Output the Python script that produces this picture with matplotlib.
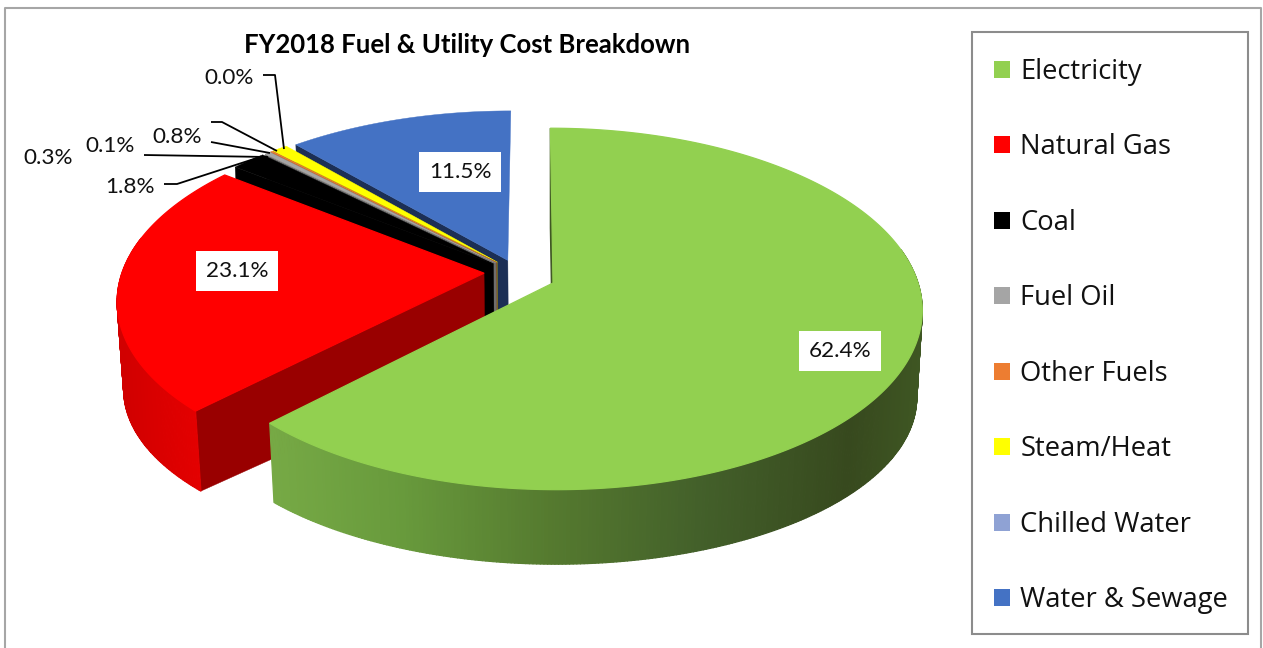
import numpy as np
import matplotlib
matplotlib.use("Agg")
import matplotlib.pyplot as plt
from matplotlib.patches import Polygon, Rectangle, Patch
from matplotlib.collections import PolyCollection
from matplotlib.colors import to_rgb

plt.rcParams['font.family'] = ['Lato', 'DejaVu Sans']

TITLE = "FY2018 Fuel & Utility Cost Breakdown"
categories = ["Electricity", "Natural Gas", "Coal", "Fuel Oil", "Other Fuels",
              "Steam/Heat", "Chilled Water", "Water & Sewage"]
shares = [62.4, 23.1, 1.8, 0.3, 0.1, 0.8, 0.0, 11.5]
share_labels = ["62.4%", "23.1%", "1.8%", "0.3%", "0.1%", "0.8%", "0.0%", "11.5%"]

top_colors = ["#92D050", "#FF0000", "#000000", "#A5A5A5", "#ED7D31", "#FFFF00", "#8FA2D4", "#4472C4"]
cut_colors = ["#3F5723", "#990000", "#000000", "#6E6E6E", "#8A4A1C", "#7F7F20", "#55617F", "#1C2F55"]
side_stops = {
    0: ([273, 400, 550, 700, 850, 925],
        ["#76A945", "#689A3C", "#557A2F", "#43602A", "#37491E", "#3F5723"]),
    1: ([115, 205], ["#D00000", "#E60000"]),
}
# explosion of each slice, in units of the pie radius (right, away from viewer)
explode = [(0, 0), (-0.19, 0.056), (-0.165, 0.11), (-0.158, 0.115),
           (-0.156, 0.118), (-0.154, 0.12), (-0.14, 0.125), (-0.125, 0.13)]

# projection of the tilted disc onto the page (page pixels)
CX, CY, RX, RY, PERSP, SHEAR = 553, 283, 365, 177, 0.1435, 3
BOTTOM_Y, BOTTOM_SY, BOTTOM_SX = 372, 0.93, 0.985


def project(u, v):
    s = 1 / (1 + PERSP * v)
    return CX + RX * u * s - SHEAR * v * s, CY - RY * v * s


def lower(x, y):
    return CX + (x - CX) * BOTTOM_SX, BOTTOM_Y + BOTTOM_SY * (y - CY)


fig = plt.figure(figsize=(12.63, 6.48), dpi=100, facecolor="white")
ax = fig.add_axes([0, 0, 1, 1])
ax.set_xlim(0, 1263)
ax.set_ylim(648, 0)
ax.axis("off")

# chart frame (open at the bottom edge of the crop)
ax.plot([4.5, 4.5, 1261, 1261], [648, 7.5, 7.5, 648], color="#A6A6A6", lw=1.5, zorder=1)

edges = np.concatenate([[0], np.cumsum(shares)]) * 3.6
z = 2
for i in [7, 5, 4, 3, 2, 1, 0]:
    a0, a1 = edges[i], edges[i + 1]
    e = explode[i]
    t = np.radians(np.linspace(a0, a1, max(2, int(abs(a1 - a0) * 2) + 2)))
    rx, ry = project(e[0] + np.sin(t), e[1] + np.cos(t))
    ax0, ay0 = project(e[0], e[1])
    bx, by = lower(rx, ry)
    abx, aby = lower(ax0, ay0)

    # cut face on the leading edge of the slice
    face = [(ax0, ay0), (rx[0], ry[0]), (bx[0], by[0]), (abx, aby)]
    ax.add_patch(Polygon(face, closed=True, facecolor=cut_colors[i], edgecolor=cut_colors[i],
                         lw=1.0 if i == 0 else 0.3, zorder=z))
    z += 1

    # curved outer wall: only the part that faces the viewer
    front = [j for j in range(len(rx) - 1) if np.cos(t[j]) < 0.2]
    if front:
        quads = [[(rx[j], ry[j]), (rx[j + 1], ry[j + 1]), (bx[j + 1], by[j + 1]), (bx[j], by[j])]
                 for j in front]
        if i in side_stops:
            xs, cols = side_stops[i]
            rgb = np.array([to_rgb(c) for c in cols])
            mids = np.array([(rx[j] + rx[j + 1]) / 2 for j in front])
            colors = np.column_stack([np.interp(mids, xs, rgb[:, k]) for k in range(3)])
        else:
            colors = [cut_colors[i]] * len(quads)
        ax.add_collection(PolyCollection(quads, facecolors=colors, edgecolors=colors,
                                         linewidths=0.9, zorder=z))
        z += 1

    # top surface
    pts = [(ax0, ay0)] + list(zip(rx, ry))
    ax.add_patch(Polygon(pts, closed=True, facecolor=top_colors[i], edgecolor=top_colors[i],
                         lw=0.9 if i < 2 else 0.3, zorder=z))
    z += 1

# data labels
label_font = 16.2
boxed = {0: (840, 351), 1: (237, 271), 7: (460, 172)}
for i, (x, y) in boxed.items():
    ax.text(x, y, share_labels[i], ha="center", va="center", fontsize=label_font, color="#111111",
            zorder=50, bbox=dict(facecolor="white", edgecolor="none", pad=7))
plain = {6: (229, 78), 5: (177, 137), 4: (110, 146), 3: (48, 158), 2: (130, 187)}
for i, (x, y) in plain.items():
    ax.text(x, y, share_labels[i], ha="center", va="center", fontsize=label_font, color="#111111", zorder=50)

# leader lines
leaders = [
    [(263, 75), (275, 75), (284, 149)],
    [(211, 122), (222, 122), (277, 151)],
    [(211, 142), (270, 153)],
    [(144, 155), (268, 157)],
    [(164, 184), (177, 184), (257, 158)],
]
for line in leaders:
    xs, ys = zip(*line)
    ax.plot(xs, ys, color="black", lw=1.3, zorder=49, solid_capstyle="butt")

ax.text(467, 45, TITLE, ha="center", va="center", fontsize=18.5, fontweight="bold", color="black", zorder=50)

# legend: frame plus entries
ax.add_patch(Rectangle((972, 32), 276, 602, facecolor="white", edgecolor="#8C8C8C", lw=1.5, zorder=55))
handles = [Patch(facecolor=c, edgecolor="none", label=n) for c, n in zip(top_colors, categories)]
leg = ax.legend(handles=handles, loc="upper left", bbox_to_anchor=(994, 58), bbox_transform=ax.transData,
                prop={"family": "Open Sans", "size": 19.7}, frameon=False,
                labelspacing=1.735, handlelength=0.585, handleheight=0.585, handletextpad=0.38,
                borderpad=0, borderaxespad=0, labelcolor="#111111")
leg.set_zorder(60)

fig.savefig("out.png", dpi=100, facecolor="white")
